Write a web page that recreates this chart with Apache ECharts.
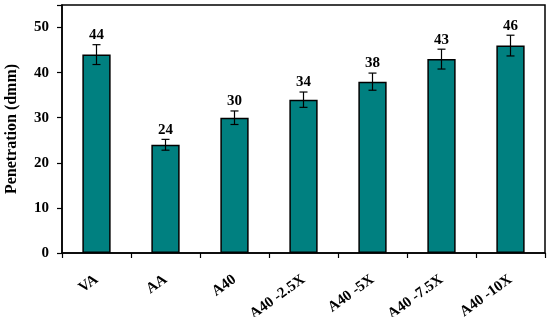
<!doctype html>
<html>
<head>
    <meta charset="utf-8">
    <title>Penetration</title>
    <script src="https://cdn.jsdelivr.net/npm/echarts@6/dist/echarts.min.js"></script>
    <style>
        html, body { margin: 0; padding: 0; background: #fff; }
        #container { width: 550px; height: 317px; }
    </style>
</head>
<body>
    <div id="container"></div>
    <script type="text/javascript">
        // 样品名称
        var categories = ['VA', 'AA', 'A40', 'A40 -2.5X', 'A40 -5X', 'A40 -7.5X', 'A40 -10X'];
        // 针入度均值
        var values = [44, 24, 30, 34, 38, 43, 46];
        // 误差（±）
        var errors = [2.2, 1.2, 1.5, 1.7, 1.9, 2.2, 2.3];
        var yTicks = [0, 10, 20, 30, 40, 50];

        var font = 'Liberation Serif';

        var errData = [];
        for (var i = 0; i < values.length; i++) {
            errData.push([i, values[i] - errors[i], values[i] + errors[i], values[i]]);
        }

        var option = {
            animation: false,
            grid: {
                left: 62, right: 5, top: 5, bottom: 64,
                outerBoundsMode: 'none',
                show: true, borderColor: '#000', borderWidth: 1.5
            },
            xAxis: {
                type: 'category',
                data: categories,
                boundaryGap: true,
                axisLine: { lineStyle: { color: '#000', width: 1.5 } },
                axisTick: { show: true, length: 5, lineStyle: { color: '#000', width: 1.2 } },
                axisLabel: {
                    rotate: 36, margin: 25, color: '#000',
                    fontFamily: font, fontWeight: 'bold', fontSize: 15
                }
            },
            yAxis: {
                type: 'value',
                min: 0, max: 55, interval: 10,
                name: 'Penetration (dmm)',
                nameLocation: 'middle',
                nameGap: 42,
                nameTextStyle: { fontFamily: font, fontWeight: 'bold', fontSize: 16, color: '#000' },
                splitLine: { show: false },
                axisLine: { show: true, lineStyle: { color: '#000', width: 1.5 } },
                axisTick: { show: true, length: 5, lineStyle: { color: '#000', width: 1.2 } },
                axisLabel: {
                    color: '#000', fontFamily: font, fontWeight: 'bold', fontSize: 15, margin: 13,
                    formatter: function (v) { return yTicks.indexOf(v) >= 0 ? v : ''; }
                }
            },
            series: [{
                type: 'bar',
                data: values,
                barWidth: '41%',
                itemStyle: { color: '#008080', borderColor: '#000', borderWidth: 1.5 }
            }, {
                type: 'custom',
                data: errData,
                z: 10,
                renderItem: function (params, api) {
                    var lo = api.coord([api.value(0), api.value(1)]);
                    var hi = api.coord([api.value(0), api.value(2)]);
                    var hw = 4;
                    var st = { stroke: '#000', lineWidth: 1.2 };
                    return {
                        type: 'group',
                        children: [
                            { type: 'line', shape: { x1: lo[0], y1: lo[1], x2: hi[0], y2: hi[1] }, style: st },
                            { type: 'line', shape: { x1: lo[0] - hw, y1: lo[1], x2: lo[0] + hw, y2: lo[1] }, style: st },
                            { type: 'line', shape: { x1: hi[0] - hw, y1: hi[1], x2: hi[0] + hw, y2: hi[1] }, style: st },
                            {
                                type: 'text',
                                style: {
                                    x: hi[0], y: hi[1] - 2, text: String(api.value(3)),
                                    textAlign: 'center', textVerticalAlign: 'bottom',
                                    font: 'bold 15px ' + font, fill: '#000'
                                }
                            }
                        ]
                    };
                }
            }]
        };

        var myChart = echarts.init(document.getElementById('container'));
        myChart.setOption(option);
    </script>
</body>
</html>
